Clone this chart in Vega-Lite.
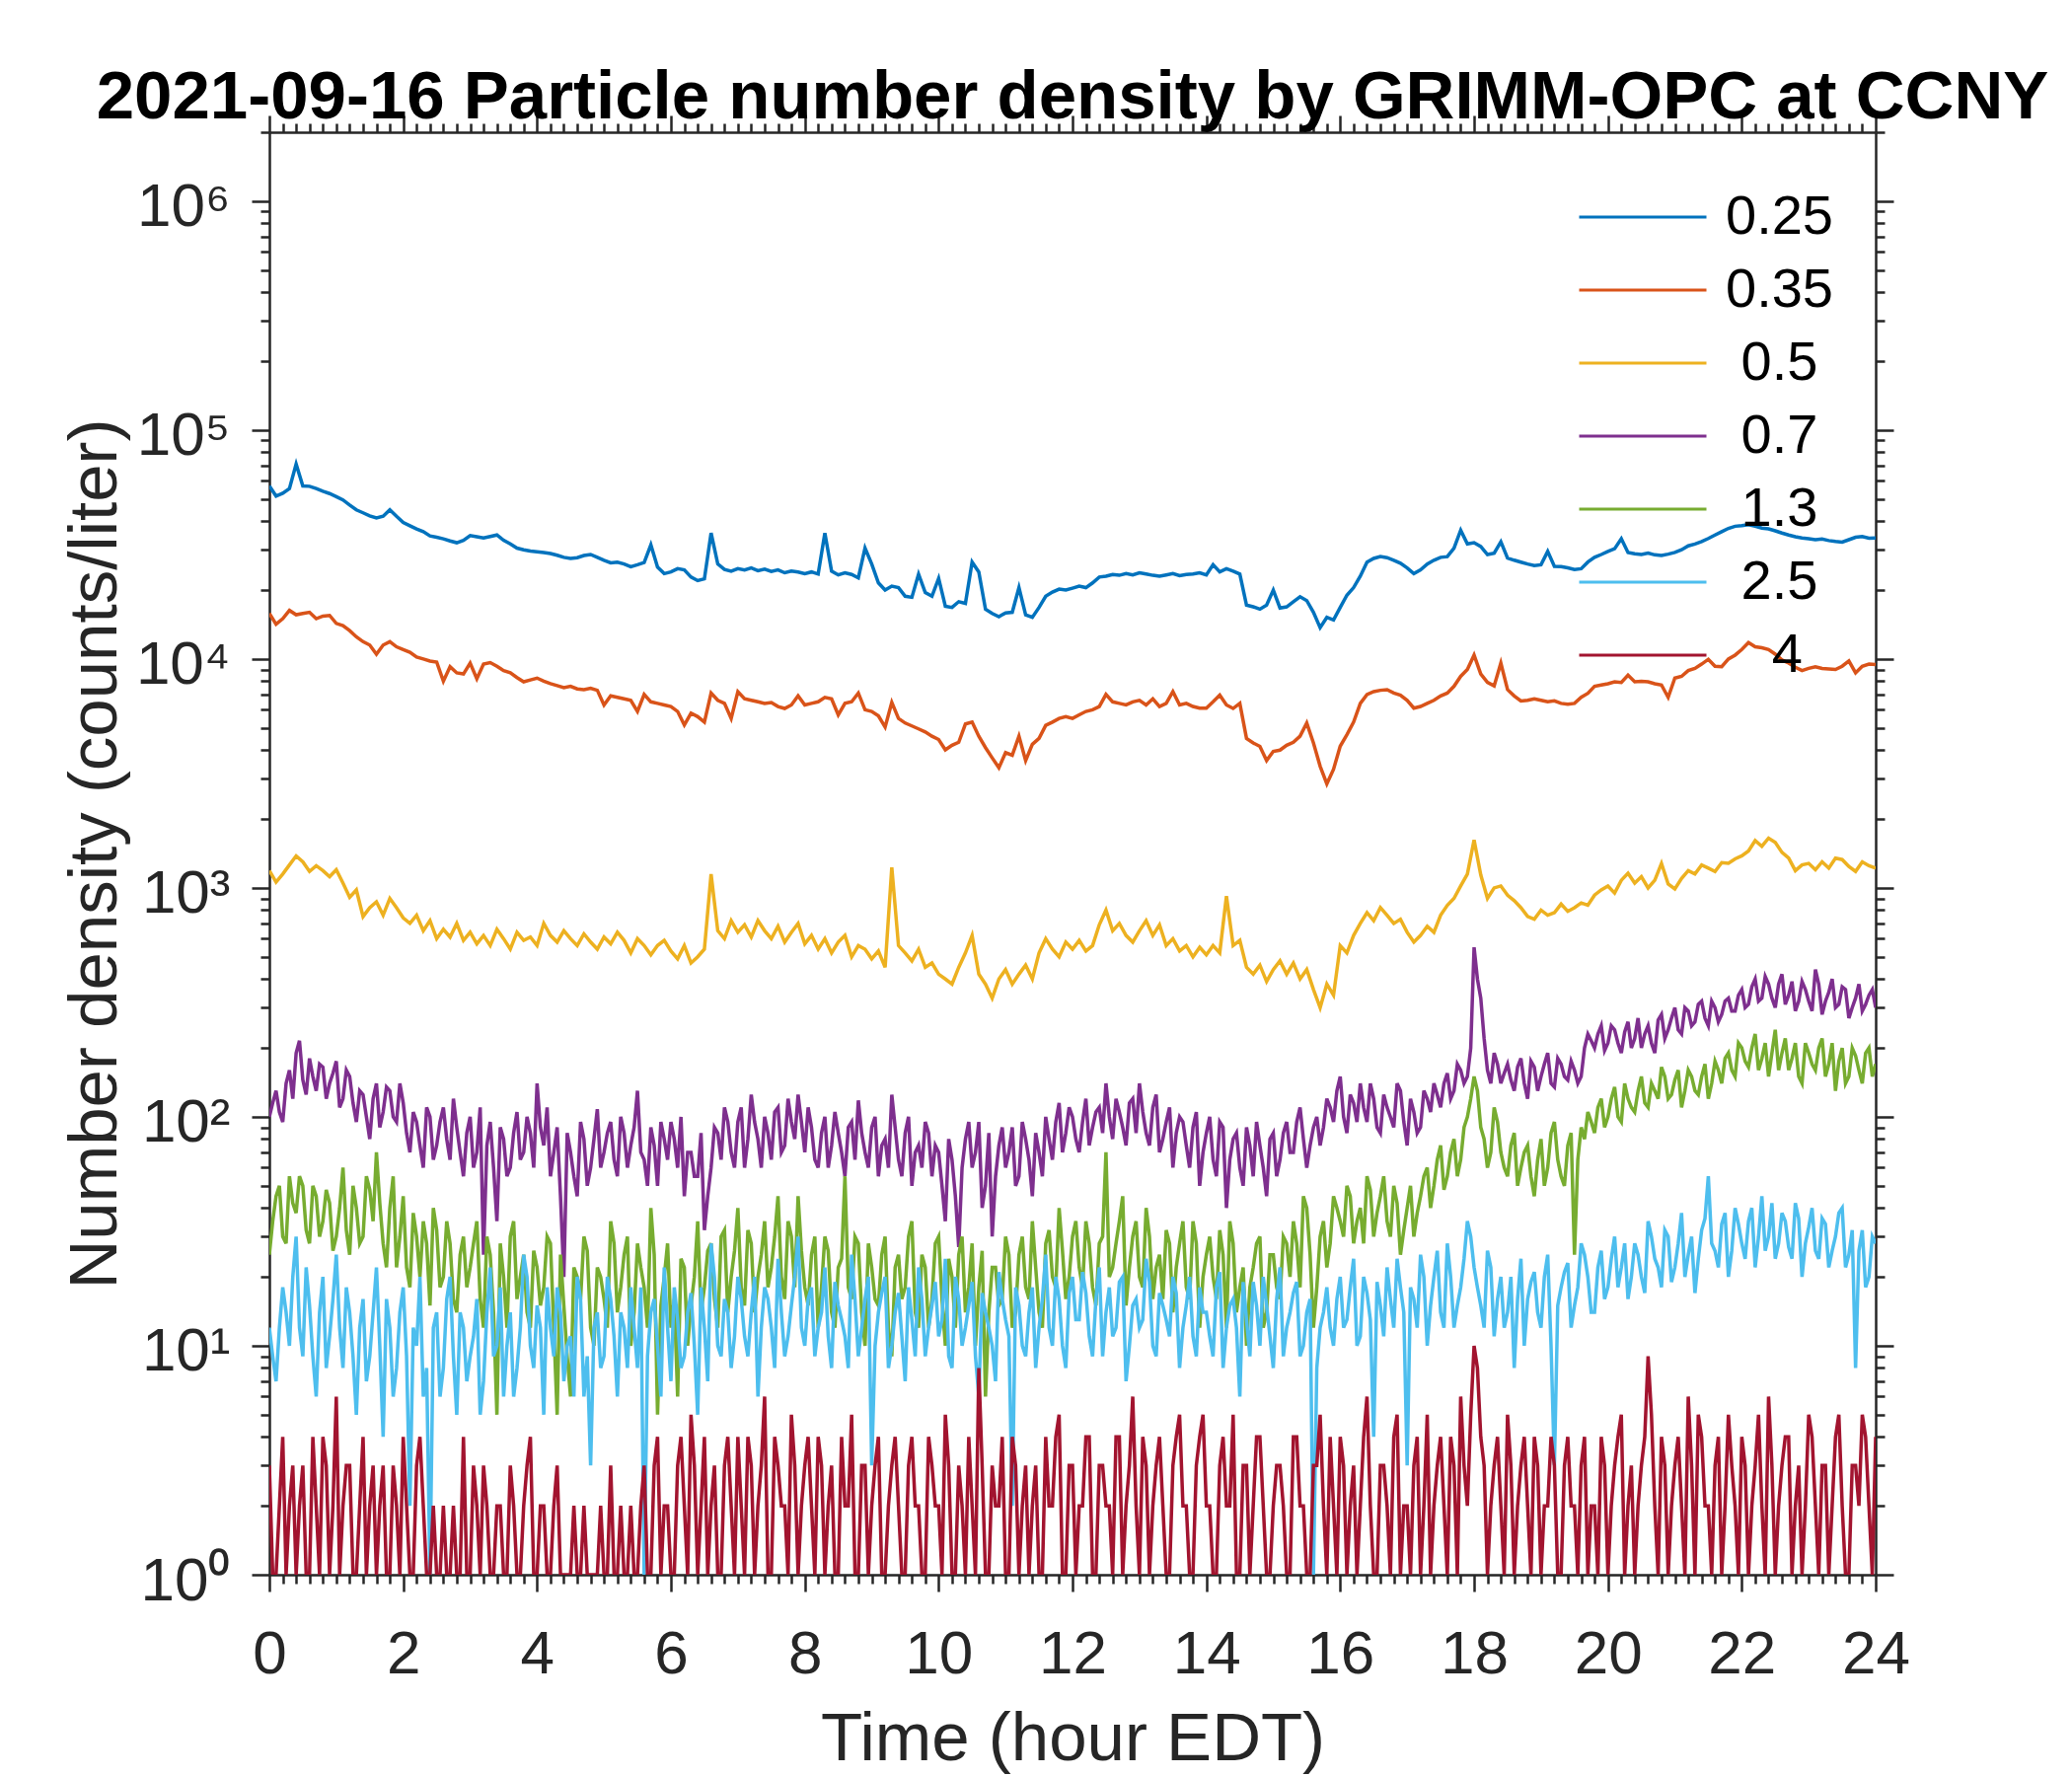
{
  "$schema": "https://vega.github.io/schema/vega-lite/v6.json",
  "width": 1628,
  "height": 1462,
  "autosize": "none",
  "padding": {"left": 273, "top": 134, "right": 199, "bottom": 204},
  "background": "white",
  "title": {
    "text": "2021-09-16 Particle number density by GRIMM-OPC at CCNY",
    "font": "Liberation Sans",
    "fontSize": 69,
    "fontWeight": "bold",
    "color": "black",
    "anchor": "middle",
    "frame": "group",
    "baseline": "alphabetic",
    "offset": 2,
    "dy": 75
  },
  "config": {
    "view": {"stroke": null},
    "axis": {
      "grid": false,
      "labelFont": "Liberation Sans",
      "labelFontSize": 62,
      "labelColor": "#262626",
      "tickColor": "#262626",
      "tickWidth": 2.5,
      "domainColor": "#262626",
      "domainWidth": 2.5,
      "titleFont": "Liberation Sans",
      "titleFontSize": 69,
      "titleFontWeight": "normal",
      "titleColor": "#262626",
      "labelFlush": false,
      "labelOverlap": false
    }
  },
  "resolve": {"axis": {"x": "independent", "y": "independent"}},
  "layer": [
    {
      "data": {
        "values": [
          {"h":0,"a":57000,"b":15800,"c":1190,"d":100,"e":25,"f":12,"g":3},
          {"h":0.05,"d":115,"e":35,"f":9,"g":1},
          {"h":0.1,"a":51500,"b":14200,"c":1060,"d":130,"e":45,"f":7,"g":1},
          {"h":0.15,"d":105,"e":50,"f":12,"g":2},
          {"h":0.2,"a":53000,"b":15000,"c":1150,"d":95,"e":30,"f":18,"g":4},
          {"h":0.25,"d":140,"e":28,"f":14,"g":1},
          {"h":0.3,"a":55500,"b":16300,"c":1260,"d":160,"e":55,"f":10,"g":2},
          {"h":0.35,"d":120,"e":42,"f":20,"g":3},
          {"h":0.4,"a":71000,"b":15600,"c":1380,"d":190,"e":38,"f":30,"g":1},
          {"h":0.45,"d":215,"e":55,"f":12,"g":2},
          {"h":0.5,"a":57000,"b":15800,"c":1300,"d":145,"e":50,"f":9,"g":3},
          {"h":0.55,"d":125,"e":32,"f":22,"g":1},
          {"h":0.6,"a":56800,"b":16000,"c":1180,"d":180,"e":28,"f":15,"g":1},
          {"h":0.65,"d":150,"e":50,"f":9,"g":4},
          {"h":0.7,"a":55500,"b":15000,"c":1250,"d":130,"e":45,"f":6,"g":2},
          {"h":0.75,"d":170,"e":30,"f":14,"g":1},
          {"h":0.8,"a":54000,"b":15400,"c":1190,"d":165,"e":35,"f":20,"g":4},
          {"h":0.85,"d":120,"e":48,"f":8,"g":3},
          {"h":0.9,"a":52800,"b":15500,"c":1120,"d":140,"e":42,"f":11,"g":1},
          {"h":0.95,"d":155,"e":26,"f":16,"g":2},
          {"h":1,"a":51200,"b":14300,"c":1200,"d":175,"e":30,"f":25,"g":6},
          {"h":1.05,"d":110,"e":40,"f":12,"g":1},
          {"h":1.1,"a":49500,"b":14000,"c":1050,"d":120,"e":60,"f":8,"g":2},
          {"h":1.15,"d":160,"e":32,"f":18,"g":3},
          {"h":1.2,"a":47000,"b":13300,"c":910,"d":150,"e":25,"f":14,"g":3},
          {"h":1.25,"d":115,"e":50,"f":9,"g":1},
          {"h":1.3,"a":44800,"b":12500,"c":980,"d":95,"e":40,"f":5,"g":1},
          {"h":1.35,"d":130,"e":28,"f":12,"g":2},
          {"h":1.4,"a":43500,"b":11900,"c":750,"d":125,"e":30,"f":16,"g":4},
          {"h":1.45,"d":100,"e":55,"f":7,"g":1},
          {"h":1.5,"a":42200,"b":11500,"c":820,"d":80,"e":48,"f":9,"g":2},
          {"h":1.55,"d":120,"e":35,"f":14,"g":3},
          {"h":1.6,"a":41300,"b":10500,"c":870,"d":140,"e":70,"f":22,"g":1},
          {"h":1.65,"d":90,"e":42,"f":10,"g":2},
          {"h":1.7,"a":42000,"b":11500,"c":760,"d":105,"e":28,"f":4,"g":3},
          {"h":1.75,"d":135,"e":22,"f":16,"g":1},
          {"h":1.8,"a":44800,"b":11900,"c":900,"d":130,"e":40,"f":12,"g":1},
          {"h":1.85,"d":100,"e":55,"f":6,"g":3},
          {"h":1.9,"a":42000,"b":11300,"c":820,"d":95,"e":22,"f":8,"g":2},
          {"h":1.95,"d":140,"e":30,"f":14,"g":1},
          {"h":2,"a":39500,"b":11000,"c":740,"d":115,"e":45,"f":18,"g":4},
          {"h":2.05,"d":85,"e":22,"f":9,"g":2},
          {"h":2.1,"a":38200,"b":10700,"c":700,"d":70,"e":18,"f":2,"g":1},
          {"h":2.15,"d":105,"e":38,"f":12,"g":1},
          {"h":2.2,"a":37000,"b":10200,"c":760,"d":95,"e":30,"f":10,"g":3},
          {"h":2.25,"d":75,"e":20,"f":20,"g":4},
          {"h":2.3,"a":36000,"b":10000,"c":650,"d":60,"e":35,"f":6,"g":2},
          {"h":2.35,"d":110,"e":28,"f":8,"g":1},
          {"h":2.4,"a":34500,"b":9800,"c":720,"d":100,"e":15,"f":1,"g":1},
          {"h":2.45,"d":65,"e":40,"f":12,"g":2},
          {"h":2.5,"a":34000,"b":9700,"c":600,"d":75,"e":32,"f":14,"g":1},
          {"h":2.55,"d":95,"e":18,"f":6,"g":1},
          {"h":2.6,"a":33500,"b":8000,"c":660,"d":110,"e":20,"f":8,"g":2},
          {"h":2.65,"d":80,"e":35,"f":16,"g":1},
          {"h":2.7,"a":32800,"b":9250,"c":610,"d":65,"e":28,"f":20,"g":1},
          {"h":2.75,"d":120,"e":16,"f":9,"g":2},
          {"h":2.8,"a":32200,"b":8700,"c":700,"d":90,"e":14,"f":5,"g":1},
          {"h":2.85,"d":70,"e":25,"f":14,"g":1},
          {"h":2.9,"a":33000,"b":8600,"c":590,"d":55,"e":30,"f":12,"g":4},
          {"h":2.95,"d":85,"e":18,"f":7,"g":1},
          {"h":3,"a":34600,"b":9600,"c":640,"d":100,"e":22,"f":9,"g":1},
          {"h":3.05,"d":60,"e":28,"f":11,"g":3},
          {"h":3.1,"a":34200,"b":8200,"c":570,"d":70,"e":35,"f":16,"g":2},
          {"h":3.15,"d":110,"e":16,"f":5,"g":1},
          {"h":3.2,"a":33800,"b":9500,"c":620,"d":25,"e":12,"f":7,"g":3},
          {"h":3.25,"d":75,"e":30,"f":14,"g":2},
          {"h":3.3,"a":34300,"b":9650,"c":560,"d":95,"e":25,"f":22,"g":1},
          {"h":3.35,"d":60,"e":14,"f":9,"g":1},
          {"h":3.4,"a":34800,"b":9300,"c":660,"d":35,"e":5,"f":10,"g":2},
          {"h":3.45,"d":90,"e":28,"f":18,"g":2},
          {"h":3.5,"a":33000,"b":8900,"c":600,"d":80,"e":20,"f":6,"g":1},
          {"h":3.55,"d":55,"e":12,"f":10,"g":1},
          {"h":3.6,"a":31800,"b":8700,"c":540,"d":60,"e":30,"f":14,"g":3},
          {"h":3.65,"d":85,"e":35,"f":6,"g":2},
          {"h":3.7,"a":30500,"b":8300,"c":640,"d":105,"e":16,"f":8,"g":1},
          {"h":3.75,"d":65,"e":20,"f":12,"g":1},
          {"h":3.8,"a":30000,"b":7950,"c":590,"d":70,"e":25,"f":25,"g":2},
          {"h":3.85,"d":100,"e":14,"f":20,"g":3},
          {"h":3.9,"a":29600,"b":8100,"c":610,"d":85,"e":12,"f":10,"g":4},
          {"h":3.95,"d":60,"e":26,"f":8,"g":1},
          {"h":4,"a":29400,"b":8250,"c":560,"d":140,"e":22,"f":15,"g":1},
          {"h":4.05,"d":90,"e":15,"f":12,"g":2},
          {"h":4.1,"a":29200,"b":8000,"c":700,"d":75,"e":18,"f":5,"g":2},
          {"h":4.15,"d":110,"e":30,"f":18,"g":1},
          {"h":4.2,"a":28900,"b":7800,"c":620,"d":55,"e":28,"f":12,"g":1},
          {"h":4.25,"d":70,"e":12,"f":9,"g":2},
          {"h":4.3,"a":28400,"b":7650,"c":580,"d":90,"e":5,"f":18,"g":3},
          {"h":4.35,"d":45,"e":25,"f":14,"g":1},
          {"h":4.4,"a":27800,"b":7500,"c":650,"d":20,"e":15,"f":7,"g":1},
          {"h":4.45,"d":85,"e":9,"f":10,"g":1},
          {"h":4.5,"a":27500,"b":7600,"c":600,"d":70,"e":6,"f":11,"g":1},
          {"h":4.55,"d":55,"e":22,"f":6,"g":2},
          {"h":4.6,"a":27700,"b":7400,"c":560,"d":45,"e":20,"f":20,"g":1},
          {"h":4.65,"d":95,"e":16,"f":16,"g":1},
          {"h":4.7,"a":28300,"b":7350,"c":630,"d":80,"e":30,"f":6,"g":2},
          {"h":4.75,"d":50,"e":26,"f":9,"g":1},
          {"h":4.8,"a":28600,"b":7450,"c":580,"d":60,"e":12,"f":3,"g":1},
          {"h":4.85,"d":80,"e":10,"f":12,"g":1},
          {"h":4.9,"a":27800,"b":7300,"c":540,"d":108,"e":22,"f":14,"g":1},
          {"h":4.95,"d":60,"e":20,"f":8,"g":2},
          {"h":5,"a":27000,"b":6300,"c":610,"d":70,"e":16,"f":9,"g":1},
          {"h":5.05,"d":85,"e":12,"f":20,"g":1},
          {"h":5.1,"a":26300,"b":6900,"c":570,"d":95,"e":35,"f":16,"g":3},
          {"h":5.15,"d":65,"e":28,"f":11,"g":1},
          {"h":5.2,"a":26500,"b":6800,"c":640,"d":55,"e":14,"f":6,"g":1},
          {"h":5.25,"d":100,"e":18,"f":14,"g":2},
          {"h":5.3,"a":26000,"b":6700,"c":590,"d":85,"e":25,"f":12,"g":1},
          {"h":5.35,"d":60,"e":30,"f":8,"g":1},
          {"h":5.4,"a":25300,"b":6600,"c":520,"d":75,"e":10,"f":18,"g":2},
          {"h":5.45,"d":90,"e":14,"f":12,"g":1},
          {"h":5.5,"a":25800,"b":5900,"c":600,"d":130,"e":28,"f":8,"g":1},
          {"h":5.55,"d":70,"e":22,"f":18,"g":2},
          {"h":5.6,"a":26400,"b":7000,"c":560,"d":65,"e":18,"f":1,"g":3},
          {"h":5.65,"d":50,"e":12,"f":9,"g":1},
          {"h":5.7,"a":31500,"b":6500,"c":510,"d":90,"e":40,"f":14,"g":1},
          {"h":5.75,"d":75,"e":25,"f":16,"g":3},
          {"h":5.8,"a":25200,"b":6400,"c":560,"d":50,"e":5,"f":10,"g":4},
          {"h":5.85,"d":95,"e":15,"f":6,"g":1},
          {"h":5.9,"a":23600,"b":6300,"c":590,"d":80,"e":20,"f":22,"g":2},
          {"h":5.95,"d":65,"e":28,"f":12,"g":2},
          {"h":6,"a":24000,"b":6200,"c":530,"d":95,"e":12,"f":7,"g":1},
          {"h":6.05,"d":80,"e":16,"f":18,"g":1},
          {"h":6.1,"a":24800,"b":5900,"c":490,"d":60,"e":6,"f":13,"g":3},
          {"h":6.15,"d":100,"e":24,"f":8,"g":4},
          {"h":6.2,"a":24500,"b":5150,"c":560,"d":45,"e":22,"f":9,"g":2},
          {"h":6.25,"d":70,"e":10,"f":14,"g":1},
          {"h":6.3,"a":22800,"b":5800,"c":470,"d":70,"e":15,"f":17,"g":5},
          {"h":6.35,"d":55,"e":20,"f":10,"g":3},
          {"h":6.4,"a":22000,"b":5600,"c":500,"d":55,"e":35,"f":5,"g":1},
          {"h":6.45,"d":85,"e":14,"f":18,"g":2},
          {"h":6.5,"a":22400,"b":5300,"c":540,"d":32,"e":18,"f":12,"g":4},
          {"h":6.55,"d":45,"e":26,"f":7,"g":1},
          {"h":6.6,"a":35500,"b":7100,"c":1150,"d":60,"e":28,"f":28,"g":2},
          {"h":6.65,"d":90,"e":16,"f":20,"g":3},
          {"h":6.7,"a":26000,"b":6600,"c":650,"d":85,"e":12,"f":10,"g":1},
          {"h":6.75,"d":65,"e":30,"f":9,"g":1},
          {"h":6.8,"a":24600,"b":6400,"c":600,"d":110,"e":32,"f":16,"g":3},
          {"h":6.85,"d":95,"e":14,"f":14,"g":4},
          {"h":6.9,"a":24200,"b":5500,"c":720,"d":70,"e":20,"f":8,"g":2},
          {"h":6.95,"d":60,"e":26,"f":11,"g":1},
          {"h":7,"a":24800,"b":7200,"c":640,"d":95,"e":40,"f":20,"g":4},
          {"h":7.05,"d":110,"e":18,"f":16,"g":2},
          {"h":7.1,"a":24500,"b":6700,"c":690,"d":60,"e":15,"f":11,"g":1},
          {"h":7.15,"d":80,"e":32,"f":9,"g":4},
          {"h":7.2,"a":25000,"b":6600,"c":610,"d":125,"e":28,"f":14,"g":3},
          {"h":7.25,"d":95,"e":14,"f":20,"g":1},
          {"h":7.3,"a":24300,"b":6500,"c":720,"d":80,"e":20,"f":6,"g":2},
          {"h":7.35,"d":60,"e":25,"f":12,"g":3},
          {"h":7.4,"a":24700,"b":6400,"c":650,"d":100,"e":35,"f":18,"g":6},
          {"h":7.45,"d":85,"e":18,"f":16,"g":1},
          {"h":7.5,"a":24100,"b":6450,"c":600,"d":65,"e":22,"f":12,"g":1},
          {"h":7.55,"d":105,"e":30,"f":8,"g":4},
          {"h":7.6,"a":24500,"b":6200,"c":680,"d":110,"e":45,"f":24,"g":3},
          {"h":7.65,"d":70,"e":20,"f":14,"g":2},
          {"h":7.7,"a":23800,"b":6080,"c":580,"d":75,"e":16,"f":9,"g":2},
          {"h":7.75,"d":120,"e":35,"f":11,"g":1},
          {"h":7.8,"a":24200,"b":6300,"c":640,"d":95,"e":30,"f":15,"g":5},
          {"h":7.85,"d":80,"e":18,"f":20,"g":3},
          {"h":7.9,"a":24000,"b":6900,"c":700,"d":125,"e":45,"f":30,"g":1},
          {"h":7.95,"d":95,"e":26,"f":12,"g":2},
          {"h":8,"a":23600,"b":6300,"c":570,"d":70,"e":18,"f":10,"g":3},
          {"h":8.05,"d":110,"e":15,"f":16,"g":4},
          {"h":8.1,"a":24000,"b":6400,"c":620,"d":90,"e":25,"f":18,"g":2},
          {"h":8.15,"d":65,"e":30,"f":9,"g":1},
          {"h":8.2,"a":23500,"b":6500,"c":540,"d":60,"e":12,"f":12,"g":4},
          {"h":8.25,"d":85,"e":18,"f":14,"g":3},
          {"h":8.3,"a":35500,"b":6800,"c":600,"d":100,"e":30,"f":22,"g":1},
          {"h":8.35,"d":60,"e":26,"f":11,"g":2},
          {"h":8.4,"a":24200,"b":6700,"c":520,"d":75,"e":14,"f":8,"g":3},
          {"h":8.45,"d":105,"e":12,"f":19,"g":1},
          {"h":8.5,"a":23300,"b":5700,"c":580,"d":85,"e":22,"f":15,"g":1},
          {"h":8.55,"d":70,"e":24,"f":13,"g":4},
          {"h":8.6,"a":23800,"b":6400,"c":620,"d":55,"e":55,"f":11,"g":2},
          {"h":8.65,"d":90,"e":18,"f":8,"g":2},
          {"h":8.7,"a":23400,"b":6500,"c":500,"d":95,"e":16,"f":25,"g":5},
          {"h":8.75,"d":65,"e":30,"f":16,"g":1},
          {"h":8.8,"a":22600,"b":7100,"c":560,"d":118,"e":28,"f":9,"g":1},
          {"h":8.85,"d":85,"e":14,"f":12,"g":3},
          {"h":8.9,"a":30500,"b":6000,"c":540,"d":70,"e":10,"f":16,"g":3},
          {"h":8.95,"d":60,"e":28,"f":20,"g":1},
          {"h":9,"a":26000,"b":5900,"c":490,"d":90,"e":22,"f":3,"g":2},
          {"h":9.05,"d":100,"e":16,"f":10,"g":3},
          {"h":9.1,"a":21500,"b":5640,"c":530,"d":55,"e":15,"f":14,"g":4},
          {"h":9.15,"d":75,"e":25,"f":17,"g":1},
          {"h":9.2,"a":20000,"b":5040,"c":450,"d":80,"e":30,"f":20,"g":1},
          {"h":9.25,"d":60,"e":12,"f":8,"g":2},
          {"h":9.3,"a":20800,"b":6460,"c":1230,"d":125,"e":9,"f":10,"g":3},
          {"h":9.35,"d":90,"e":22,"f":14,"g":4},
          {"h":9.4,"a":20500,"b":5500,"c":560,"d":65,"e":25,"f":17,"g":2},
          {"h":9.45,"d":55,"e":16,"f":11,"g":1},
          {"h":9.5,"a":18800,"b":5250,"c":520,"d":85,"e":18,"f":7,"g":1},
          {"h":9.55,"d":100,"e":30,"f":18,"g":3},
          {"h":9.6,"a":18600,"b":5100,"c":480,"d":50,"e":35,"f":13,"g":4},
          {"h":9.65,"d":70,"e":14,"f":9,"g":2},
          {"h":9.7,"a":23500,"b":4950,"c":540,"d":75,"e":12,"f":22,"g":2},
          {"h":9.75,"d":60,"e":25,"f":16,"g":1},
          {"h":9.8,"a":19500,"b":4800,"c":450,"d":95,"e":22,"f":9,"g":1},
          {"h":9.85,"d":85,"e":12,"f":12,"g":4},
          {"h":9.9,"a":18800,"b":4600,"c":470,"d":55,"e":16,"f":15,"g":3},
          {"h":9.95,"d":75,"e":28,"f":19,"g":2},
          {"h":10,"a":22500,"b":4450,"c":420,"d":70,"e":30,"f":11,"g":2},
          {"h":10.05,"d":50,"e":16,"f":13,"g":1},
          {"h":10.1,"a":17000,"b":4010,"c":400,"d":35,"e":10,"f":24,"g":5},
          {"h":10.15,"d":80,"e":24,"f":9,"g":3},
          {"h":10.2,"a":16800,"b":4200,"c":380,"d":65,"e":20,"f":8,"g":1},
          {"h":10.25,"d":45,"e":12,"f":20,"g":1},
          {"h":10.3,"a":17800,"b":4330,"c":450,"d":27,"e":25,"f":16,"g":3},
          {"h":10.35,"d":60,"e":30,"f":10,"g":2},
          {"h":10.4,"a":17500,"b":5200,"c":520,"d":80,"e":14,"f":12,"g":1},
          {"h":10.45,"d":95,"e":18,"f":15,"g":4},
          {"h":10.5,"a":26500,"b":5300,"c":620,"d":60,"e":28,"f":19,"g":2},
          {"h":10.55,"d":70,"e":10,"f":9,"g":1},
          {"h":10.6,"a":24000,"b":4600,"c":420,"d":95,"e":18,"f":6,"g":8},
          {"h":10.65,"d":40,"e":26,"f":17,"g":3},
          {"h":10.7,"a":16500,"b":4100,"c":380,"d":50,"e":6,"f":14,"g":1},
          {"h":10.75,"d":85,"e":14,"f":12,"g":1},
          {"h":10.8,"a":15800,"b":3700,"c":330,"d":30,"e":22,"f":10,"g":3},
          {"h":10.85,"d":55,"e":22,"f":7,"g":2},
          {"h":10.9,"a":15300,"b":3350,"c":400,"d":75,"e":15,"f":21,"g":2},
          {"h":10.95,"d":90,"e":16,"f":16,"g":4},
          {"h":11,"a":15900,"b":3900,"c":440,"d":60,"e":30,"f":13,"g":1},
          {"h":11.05,"d":70,"e":25,"f":11,"g":1},
          {"h":11.1,"a":16000,"b":3800,"c":380,"d":90,"e":12,"f":2,"g":4},
          {"h":11.15,"d":50,"e":14,"f":18,"g":3},
          {"h":11.2,"a":20500,"b":4600,"c":420,"d":55,"e":25,"f":15,"g":1},
          {"h":11.25,"d":95,"e":30,"f":10,"g":2},
          {"h":11.3,"a":15600,"b":3600,"c":460,"d":80,"e":18,"f":9,"g":3},
          {"h":11.35,"d":65,"e":16,"f":14,"g":1},
          {"h":11.4,"a":15200,"b":4240,"c":400,"d":45,"e":35,"f":18,"g":2},
          {"h":11.45,"d":85,"e":22,"f":8,"g":3},
          {"h":11.5,"a":16800,"b":4500,"c":520,"d":70,"e":14,"f":12,"g":1},
          {"h":11.55,"d":55,"e":12,"f":16,"g":1},
          {"h":11.6,"a":18800,"b":5130,"c":600,"d":100,"e":28,"f":25,"g":4},
          {"h":11.65,"d":80,"e":32,"f":12,"g":2},
          {"h":11.7,"a":19600,"b":5300,"c":540,"d":65,"e":20,"f":10,"g":2},
          {"h":11.75,"d":95,"e":18,"f":20,"g":4},
          {"h":11.8,"a":20200,"b":5500,"c":500,"d":115,"e":40,"f":16,"g":5},
          {"h":11.85,"d":70,"e":26,"f":10,"g":1},
          {"h":11.9,"a":20000,"b":5600,"c":580,"d":85,"e":16,"f":8,"g":1},
          {"h":11.95,"d":110,"e":20,"f":17,"g":3},
          {"h":12,"a":20400,"b":5500,"c":540,"d":100,"e":30,"f":20,"g":3},
          {"h":12.05,"d":80,"e":35,"f":13,"g":1},
          {"h":12.1,"a":20800,"b":5700,"c":590,"d":70,"e":22,"f":13,"g":2},
          {"h":12.15,"d":95,"e":18,"f":21,"g":2},
          {"h":12.2,"a":20500,"b":5900,"c":530,"d":120,"e":35,"f":17,"g":4},
          {"h":12.25,"d":75,"e":28,"f":11,"g":4},
          {"h":12.3,"a":21500,"b":6000,"c":560,"d":90,"e":18,"f":9,"g":1},
          {"h":12.35,"d":105,"e":15,"f":16,"g":1},
          {"h":12.4,"a":22800,"b":6200,"c":690,"d":110,"e":28,"f":22,"g":3},
          {"h":12.45,"d":85,"e":30,"f":9,"g":3},
          {"h":12.5,"a":23000,"b":7000,"c":800,"d":140,"e":70,"f":14,"g":2},
          {"h":12.55,"d":100,"e":20,"f":18,"g":2},
          {"h":12.6,"a":23400,"b":6500,"c":650,"d":80,"e":22,"f":11,"g":1},
          {"h":12.65,"d":120,"e":28,"f":12,"g":4},
          {"h":12.7,"a":23200,"b":6400,"c":700,"d":105,"e":35,"f":19,"g":4},
          {"h":12.75,"d":90,"e":45,"f":20,"g":1},
          {"h":12.8,"a":23600,"b":6300,"c":620,"d":75,"e":15,"f":7,"g":2},
          {"h":12.85,"d":115,"e":22,"f":10,"g":3},
          {"h":12.9,"a":23300,"b":6500,"c":580,"d":120,"e":30,"f":15,"g":6},
          {"h":12.95,"d":85,"e":35,"f":16,"g":2},
          {"h":13,"a":23800,"b":6600,"c":650,"d":140,"e":20,"f":12,"g":1},
          {"h":13.05,"d":105,"e":18,"f":13,"g":4},
          {"h":13.1,"a":23500,"b":6300,"c":720,"d":85,"e":40,"f":24,"g":3},
          {"h":13.15,"d":75,"e":30,"f":19,"g":1},
          {"h":13.2,"a":23200,"b":6700,"c":620,"d":110,"e":16,"f":10,"g":2},
          {"h":13.25,"d":125,"e":22,"f":9,"g":3},
          {"h":13.3,"a":23000,"b":6200,"c":690,"d":70,"e":25,"f":17,"g":4},
          {"h":13.35,"d":80,"e":16,"f":15,"g":2},
          {"h":13.4,"a":23300,"b":6400,"c":560,"d":95,"e":32,"f":13,"g":1},
          {"h":13.45,"d":110,"e":28,"f":11,"g":1},
          {"h":13.5,"a":23600,"b":7200,"c":600,"d":60,"e":14,"f":20,"g":3},
          {"h":13.55,"d":85,"e":22,"f":17,"g":4},
          {"h":13.6,"a":23100,"b":6300,"c":530,"d":100,"e":28,"f":8,"g":5},
          {"h":13.65,"d":95,"e":35,"f":12,"g":2},
          {"h":13.7,"a":23400,"b":6400,"c":560,"d":75,"e":18,"f":15,"g":2},
          {"h":13.75,"d":60,"e":16,"f":20,"g":1},
          {"h":13.8,"a":23500,"b":6200,"c":500,"d":90,"e":35,"f":11,"g":1},
          {"h":13.85,"d":105,"e":28,"f":9,"g":3},
          {"h":13.9,"a":23800,"b":6100,"c":550,"d":50,"e":12,"f":18,"g":4},
          {"h":13.95,"d":70,"e":20,"f":14,"g":5},
          {"h":14,"a":23300,"b":6100,"c":510,"d":85,"e":25,"f":14,"g":2},
          {"h":14.05,"d":100,"e":30,"f":11,"g":2},
          {"h":14.1,"a":25800,"b":6500,"c":560,"d":65,"e":20,"f":9,"g":1},
          {"h":14.15,"d":55,"e":16,"f":18,"g":1},
          {"h":14.2,"a":24000,"b":6950,"c":520,"d":95,"e":32,"f":21,"g":3},
          {"h":14.25,"d":90,"e":25,"f":8,"g":4},
          {"h":14.3,"a":24800,"b":6300,"c":920,"d":40,"e":12,"f":12,"g":2},
          {"h":14.35,"d":65,"e":35,"f":15,"g":2},
          {"h":14.4,"a":24200,"b":6080,"c":560,"d":80,"e":28,"f":16,"g":5},
          {"h":14.45,"d":85,"e":14,"f":12,"g":1},
          {"h":14.5,"a":23500,"b":6400,"c":590,"d":60,"e":18,"f":6,"g":1},
          {"h":14.55,"d":50,"e":22,"f":19,"g":3},
          {"h":14.6,"a":17200,"b":4500,"c":450,"d":90,"e":10,"f":13,"g":3},
          {"h":14.65,"d":75,"e":18,"f":9,"g":1},
          {"h":14.7,"a":16900,"b":4300,"c":420,"d":55,"e":22,"f":19,"g":2},
          {"h":14.75,"d":95,"e":28,"f":15,"g":4},
          {"h":14.8,"a":16500,"b":4150,"c":460,"d":75,"e":30,"f":10,"g":4},
          {"h":14.85,"d":60,"e":12,"f":20,"g":2},
          {"h":14.9,"a":17200,"b":3600,"c":390,"d":45,"e":14,"f":15,"g":1},
          {"h":14.95,"d":80,"e":25,"f":11,"g":1},
          {"h":15,"a":20000,"b":3950,"c":440,"d":85,"e":25,"f":8,"g":2},
          {"h":15.05,"d":55,"e":18,"f":16,"g":3},
          {"h":15.1,"a":16700,"b":4000,"c":480,"d":65,"e":16,"f":22,"g":3},
          {"h":15.15,"d":85,"e":30,"f":9,"g":2},
          {"h":15.2,"a":16900,"b":4200,"c":420,"d":95,"e":28,"f":12,"g":1},
          {"h":15.25,"d":70,"e":20,"f":14,"g":1},
          {"h":15.3,"a":17800,"b":4330,"c":470,"d":70,"e":35,"f":17,"g":4},
          {"h":15.35,"d":95,"e":28,"f":19,"g":4},
          {"h":15.4,"a":18700,"b":4600,"c":400,"d":110,"e":18,"f":9,"g":2},
          {"h":15.45,"d":80,"e":45,"f":10,"g":2},
          {"h":15.5,"a":18000,"b":5250,"c":440,"d":60,"e":40,"f":14,"g":1},
          {"h":15.55,"d":75,"e":25,"f":16,"g":1},
          {"h":15.6,"a":16000,"b":4300,"c":360,"d":90,"e":12,"f":1,"g":3},
          {"h":15.65,"d":100,"e":18,"f":8,"g":3},
          {"h":15.7,"a":13700,"b":3400,"c":300,"d":75,"e":30,"f":12,"g":5},
          {"h":15.75,"d":90,"e":35,"f":14,"g":2},
          {"h":15.8,"a":15200,"b":2850,"c":380,"d":120,"e":22,"f":18,"g":1},
          {"h":15.85,"d":110,"e":28,"f":12,"g":4},
          {"h":15.9,"a":14800,"b":3300,"c":340,"d":95,"e":45,"f":10,"g":2},
          {"h":15.95,"d":130,"e":40,"f":16,"g":1},
          {"h":16,"a":16800,"b":4160,"c":560,"d":150,"e":35,"f":20,"g":4},
          {"h":16.05,"d":100,"e":30,"f":12,"g":3},
          {"h":16.1,"a":19000,"b":4670,"c":520,"d":85,"e":50,"f":13,"g":1},
          {"h":16.15,"d":125,"e":45,"f":18,"g":2},
          {"h":16.2,"a":20500,"b":5300,"c":620,"d":115,"e":28,"f":24,"g":3},
          {"h":16.25,"d":95,"e":35,"f":10,"g":1},
          {"h":16.3,"a":23000,"b":6400,"c":700,"d":140,"e":40,"f":11,"g":2},
          {"h":16.35,"d":110,"e":28,"f":20,"g":4},
          {"h":16.4,"a":26500,"b":7000,"c":780,"d":95,"e":55,"f":17,"g":6},
          {"h":16.45,"d":140,"e":48,"f":13,"g":2},
          {"h":16.5,"a":27500,"b":7200,"c":720,"d":120,"e":30,"f":4,"g":1},
          {"h":16.55,"d":90,"e":38,"f":19,"g":1},
          {"h":16.6,"a":28000,"b":7300,"c":820,"d":85,"e":45,"f":15,"g":3},
          {"h":16.65,"d":125,"e":55,"f":11,"g":3},
          {"h":16.7,"a":27700,"b":7350,"c":760,"d":110,"e":35,"f":22,"g":2},
          {"h":16.75,"d":100,"e":30,"f":16,"g":1},
          {"h":16.8,"a":27000,"b":7100,"c":700,"d":90,"e":50,"f":12,"g":4},
          {"h":16.85,"d":140,"e":42,"f":24,"g":5},
          {"h":16.9,"a":26200,"b":6950,"c":730,"d":130,"e":25,"f":18,"g":1},
          {"h":16.95,"d":95,"e":32,"f":14,"g":2},
          {"h":17,"a":25000,"b":6600,"c":640,"d":75,"e":40,"f":3,"g":2},
          {"h":17.05,"d":120,"e":50,"f":18,"g":1},
          {"h":17.1,"a":23600,"b":6100,"c":580,"d":105,"e":30,"f":16,"g":3},
          {"h":17.15,"d":85,"e":38,"f":12,"g":4},
          {"h":17.2,"a":24500,"b":6200,"c":620,"d":90,"e":45,"f":25,"g":1},
          {"h":17.25,"d":130,"e":55,"f":20,"g":2},
          {"h":17.3,"a":26000,"b":6400,"c":680,"d":120,"e":60,"f":10,"g":5},
          {"h":17.35,"d":105,"e":40,"f":15,"g":1},
          {"h":17.4,"a":27000,"b":6600,"c":640,"d":140,"e":50,"f":20,"g":2},
          {"h":17.45,"d":125,"e":65,"f":26,"g":3},
          {"h":17.5,"a":27800,"b":6900,"c":760,"d":110,"e":75,"f":14,"g":4},
          {"h":17.55,"d":140,"e":48,"f":12,"g":2},
          {"h":17.6,"a":28000,"b":7100,"c":840,"d":155,"e":55,"f":28,"g":1},
          {"h":17.65,"d":120,"e":70,"f":20,"g":4},
          {"h":17.7,"a":30500,"b":7600,"c":900,"d":130,"e":80,"f":12,"g":3},
          {"h":17.75,"d":170,"e":55,"f":15,"g":1},
          {"h":17.8,"a":36500,"b":8400,"c":1020,"d":160,"e":65,"f":18,"g":6},
          {"h":17.85,"d":140,"e":90,"f":24,"g":3},
          {"h":17.9,"a":31800,"b":9000,"c":1150,"d":150,"e":100,"f":35,"g":2},
          {"h":17.95,"d":200,"e":120,"f":30,"g":5},
          {"h":18,"a":32200,"b":10400,"c":1620,"d":550,"e":150,"f":22,"g":10},
          {"h":18.05,"d":400,"e":130,"f":18,"g":8},
          {"h":18.1,"a":31000,"b":8600,"c":1140,"d":330,"e":90,"f":15,"g":4},
          {"h":18.15,"d":220,"e":80,"f":12,"g":3},
          {"h":18.2,"a":28600,"b":7900,"c":900,"d":160,"e":60,"f":26,"g":1},
          {"h":18.25,"d":140,"e":70,"f":22,"g":2},
          {"h":18.3,"a":29000,"b":7630,"c":1000,"d":190,"e":110,"f":11,"g":3},
          {"h":18.35,"d":170,"e":95,"f":16,"g":4},
          {"h":18.4,"a":32500,"b":9600,"c":1020,"d":140,"e":70,"f":20,"g":2},
          {"h":18.45,"d":155,"e":60,"f":12,"g":1},
          {"h":18.5,"a":27600,"b":7350,"c":930,"d":170,"e":55,"f":14,"g":5},
          {"h":18.55,"d":145,"e":75,"f":20,"g":3},
          {"h":18.6,"a":27000,"b":6900,"c":880,"d":130,"e":85,"f":8,"g":1},
          {"h":18.65,"d":165,"e":50,"f":16,"g":2},
          {"h":18.7,"a":26500,"b":6560,"c":820,"d":180,"e":60,"f":24,"g":3},
          {"h":18.75,"d":140,"e":70,"f":10,"g":4},
          {"h":18.8,"a":26000,"b":6600,"c":750,"d":120,"e":75,"f":16,"g":2},
          {"h":18.85,"d":175,"e":55,"f":19,"g":1},
          {"h":18.9,"a":25600,"b":6700,"c":730,"d":165,"e":45,"f":21,"g":4},
          {"h":18.95,"d":130,"e":65,"f":14,"g":3},
          {"h":19,"a":25800,"b":6600,"c":800,"d":150,"e":80,"f":12,"g":1},
          {"h":19.05,"d":170,"e":50,"f":20,"g":2},
          {"h":19.1,"a":29500,"b":6500,"c":760,"d":190,"e":60,"f":25,"g":2},
          {"h":19.15,"d":140,"e":85,"f":10,"g":4},
          {"h":19.2,"a":25400,"b":6560,"c":780,"d":135,"e":95,"f":3,"g":3},
          {"h":19.25,"d":180,"e":65,"f":15,"g":1},
          {"h":19.3,"a":25300,"b":6400,"c":850,"d":170,"e":55,"f":18,"g":1},
          {"h":19.35,"d":150,"e":50,"f":21,"g":3},
          {"h":19.4,"a":25000,"b":6350,"c":790,"d":145,"e":75,"f":23,"g":4},
          {"h":19.45,"d":175,"e":85,"f":12,"g":2},
          {"h":19.5,"a":24600,"b":6400,"c":820,"d":160,"e":25,"f":15,"g":2},
          {"h":19.55,"d":140,"e":65,"f":18,"g":1},
          {"h":19.6,"a":24800,"b":6800,"c":860,"d":150,"e":90,"f":28,"g":3},
          {"h":19.65,"d":200,"e":80,"f":25,"g":4},
          {"h":19.7,"a":26500,"b":7080,"c":840,"d":230,"e":105,"f":20,"g":1},
          {"h":19.75,"d":215,"e":95,"f":14,"g":2},
          {"h":19.8,"a":27800,"b":7600,"c":930,"d":200,"e":85,"f":14,"g":2},
          {"h":19.85,"d":230,"e":110,"f":22,"g":1},
          {"h":19.9,"a":28600,"b":7700,"c":980,"d":250,"e":120,"f":26,"g":4},
          {"h":19.95,"d":195,"e":90,"f":16,"g":3},
          {"h":20,"a":29500,"b":7800,"c":1020,"d":210,"e":100,"f":18,"g":1},
          {"h":20.05,"d":250,"e":120,"f":24,"g":2},
          {"h":20.1,"a":30300,"b":7950,"c":950,"d":240,"e":135,"f":30,"g":3},
          {"h":20.15,"d":210,"e":100,"f":18,"g":4},
          {"h":20.2,"a":33500,"b":7900,"c":1080,"d":190,"e":95,"f":22,"g":5},
          {"h":20.25,"d":235,"e":140,"f":28,"g":1},
          {"h":20.3,"a":29200,"b":8500,"c":1160,"d":260,"e":120,"f":16,"g":2},
          {"h":20.35,"d":200,"e":110,"f":20,"g":3},
          {"h":20.4,"a":28800,"b":7950,"c":1050,"d":220,"e":105,"f":28,"g":1},
          {"h":20.45,"d":270,"e":130,"f":25,"g":2},
          {"h":20.5,"a":28600,"b":8000,"c":1120,"d":200,"e":150,"f":20,"g":3},
          {"h":20.55,"d":230,"e":115,"f":17,"g":4},
          {"h":20.6,"a":29000,"b":7950,"c":1000,"d":250,"e":110,"f":35,"g":9},
          {"h":20.65,"d":210,"e":140,"f":30,"g":5},
          {"h":20.7,"a":28500,"b":7800,"c":1080,"d":190,"e":130,"f":24,"g":2},
          {"h":20.75,"d":265,"e":120,"f":22,"g":1},
          {"h":20.8,"a":28300,"b":7700,"c":1280,"d":280,"e":165,"f":18,"g":4},
          {"h":20.85,"d":220,"e":150,"f":32,"g":3},
          {"h":20.9,"a":28700,"b":6800,"c":1040,"d":240,"e":120,"f":30,"g":1},
          {"h":20.95,"d":270,"e":125,"f":19,"g":2},
          {"h":21,"a":29200,"b":8250,"c":990,"d":300,"e":145,"f":22,"g":3},
          {"h":21.05,"d":240,"e":160,"f":28,"g":4},
          {"h":21.1,"a":30000,"b":8400,"c":1100,"d":230,"e":110,"f":38,"g":2},
          {"h":21.15,"d":300,"e":130,"f":20,"g":1},
          {"h":21.2,"a":31200,"b":8900,"c":1190,"d":290,"e":160,"f":25,"g":6},
          {"h":21.25,"d":250,"e":150,"f":30,"g":3},
          {"h":21.3,"a":31800,"b":9100,"c":1150,"d":260,"e":130,"f":17,"g":1},
          {"h":21.35,"d":310,"e":125,"f":24,"g":5},
          {"h":21.4,"a":32600,"b":9500,"c":1260,"d":320,"e":150,"f":32,"g":4},
          {"h":21.45,"d":270,"e":170,"f":36,"g":2},
          {"h":21.5,"a":33600,"b":9970,"c":1220,"d":250,"e":120,"f":55,"g":2},
          {"h":21.55,"d":320,"e":140,"f":28,"g":1},
          {"h":21.6,"a":34800,"b":9300,"c":1180,"d":300,"e":175,"f":26,"g":3},
          {"h":21.65,"d":260,"e":160,"f":22,"g":4},
          {"h":21.7,"a":36000,"b":9250,"c":1290,"d":280,"e":140,"f":34,"g":1},
          {"h":21.75,"d":320,"e":180,"f":38,"g":2},
          {"h":21.8,"a":37200,"b":10000,"c":1280,"d":330,"e":190,"f":20,"g":5},
          {"h":21.85,"d":290,"e":160,"f":26,"g":3},
          {"h":21.9,"a":38000,"b":10400,"c":1340,"d":290,"e":150,"f":40,"g":2},
          {"h":21.95,"d":340,"e":210,"f":34,"g":1},
          {"h":22,"a":38200,"b":11000,"c":1380,"d":360,"e":200,"f":28,"g":4},
          {"h":22.05,"d":300,"e":175,"f":24,"g":3},
          {"h":22.1,"a":38600,"b":11800,"c":1450,"d":310,"e":165,"f":35,"g":1},
          {"h":22.15,"d":370,"e":200,"f":40,"g":2},
          {"h":22.2,"a":38000,"b":11300,"c":1610,"d":400,"e":230,"f":22,"g":3},
          {"h":22.25,"d":320,"e":160,"f":30,"g":5},
          {"h":22.3,"a":37300,"b":11200,"c":1520,"d":330,"e":180,"f":45,"g":2},
          {"h":22.35,"d":410,"e":210,"f":26,"g":1},
          {"h":22.4,"a":37000,"b":11000,"c":1650,"d":380,"e":150,"f":30,"g":6},
          {"h":22.45,"d":330,"e":190,"f":42,"g":3},
          {"h":22.5,"a":36300,"b":10500,"c":1580,"d":300,"e":240,"f":24,"g":1},
          {"h":22.55,"d":380,"e":160,"f":28,"g":2},
          {"h":22.6,"a":35500,"b":9900,"c":1430,"d":420,"e":190,"f":38,"g":3},
          {"h":22.65,"d":310,"e":220,"f":35,"g":4},
          {"h":22.7,"a":34800,"b":9600,"c":1350,"d":340,"e":160,"f":27,"g":4},
          {"h":22.75,"d":390,"e":180,"f":24,"g":1},
          {"h":22.8,"a":34200,"b":9200,"c":1190,"d":290,"e":210,"f":42,"g":2},
          {"h":22.85,"d":320,"e":150,"f":36,"g":3},
          {"h":22.9,"a":33800,"b":8900,"c":1260,"d":390,"e":140,"f":20,"g":1},
          {"h":22.95,"d":360,"e":210,"f":28,"g":2},
          {"h":23,"a":33500,"b":9100,"c":1280,"d":320,"e":190,"f":33,"g":5},
          {"h":23.05,"d":290,"e":170,"f":40,"g":4},
          {"h":23.1,"a":33200,"b":9250,"c":1200,"d":440,"e":160,"f":26,"g":2},
          {"h":23.15,"d":380,"e":200,"f":24,"g":1},
          {"h":23.2,"a":33400,"b":9100,"c":1300,"d":280,"e":220,"f":36,"g":3},
          {"h":23.25,"d":320,"e":150,"f":34,"g":3},
          {"h":23.3,"a":32900,"b":9050,"c":1220,"d":350,"e":170,"f":22,"g":1},
          {"h":23.35,"d":400,"e":210,"f":26,"g":2},
          {"h":23.4,"a":32600,"b":9000,"c":1350,"d":300,"e":130,"f":30,"g":4},
          {"h":23.45,"d":310,"e":175,"f":38,"g":5},
          {"h":23.5,"a":32400,"b":9300,"c":1330,"d":370,"e":200,"f":40,"g":2},
          {"h":23.55,"d":360,"e":140,"f":22,"g":1},
          {"h":23.6,"a":33200,"b":9800,"c":1240,"d":270,"e":150,"f":25,"g":1},
          {"h":23.65,"d":300,"e":200,"f":32,"g":3},
          {"h":23.7,"a":34000,"b":8700,"c":1180,"d":330,"e":185,"f":8,"g":3},
          {"h":23.75,"d":380,"e":160,"f":26,"g":2},
          {"h":23.8,"a":34300,"b":9300,"c":1300,"d":290,"e":140,"f":32,"g":5},
          {"h":23.85,"d":310,"e":190,"f":18,"g":4},
          {"h":23.9,"a":33700,"b":9500,"c":1250,"d":340,"e":200,"f":20,"g":2},
          {"h":23.95,"d":360,"e":150,"f":30,"g":1},
          {"h":24,"a":33800,"b":9450,"c":1220,"d":300,"e":170,"f":28,"g":4}
        ]
      },
      "transform": [
        {"fold": ["a", "b", "c", "d", "e", "f", "g"], "as": ["size", "n"]},
        {"filter": "isValid(datum.n)"}
      ],
      "mark": {"type": "line", "strokeWidth": 3.5, "clip": true},
      "encoding": {
        "x": {
          "field": "h",
          "type": "quantitative",
          "scale": {"domain": [0, 24], "nice": false, "zero": false},
          "axis": {
            "orient": "bottom",
            "values": [0, 2, 4, 6, 8, 10, 12, 14, 16, 18, 20, 22, 24],
            "tickSize": 17,
            "labelPadding": 33,
            "title": "Time (hour EDT)",
            "titleBaseline": "alphabetic",
            "titleY": 187
          }
        },
        "y": {
          "field": "n",
          "type": "quantitative",
          "scale": {"type": "log", "domain": [1, 2000000], "nice": false},
          "axis": {
            "orient": "left",
            "values": [1, 10, 100, 1000, 10000, 100000, 1000000],
            "labelExpr": "'10' + ['⁰', '¹', '²', '³', '⁴', '⁵', '⁶'][round(log(datum.value) / LN10)]",
            "tickSize": 18,
            "labelPadding": 22,
            "labelOffset": 6,
            "title": "Number density (counts/liter)",
            "titleBaseline": "alphabetic",
            "titleAngle": -90,
            "titleX": -156,
            "titleY": 731
          }
        },
        "color": {
          "field": "size",
          "type": "nominal",
          "scale": {
            "domain": ["a", "b", "c", "d", "e", "f", "g"],
            "range": ["#0072BD", "#D95319", "#EDB120", "#7E2F8E", "#77AC30", "#4DBEEE", "#A2142F"]
          },
          "legend": {
            "title": null,
            "orient": "none",
            "legendX": 1364,
            "legendY": 58,
            "padding": 0,
            "symbolType": "M-3,0H3",
            "symbolSize": 1849,
            "symbolStrokeWidth": 3,
            "labelFont": "Liberation Sans",
            "labelFontSize": 56,
            "labelColor": "black",
            "labelOffset": 56,
            "rowPadding": 18,
            "labelExpr": "['0.25', '0.35', '\u200b\u00a00.5', '\u200b\u00a00.7', '\u200b\u00a01.3', '\u200b\u00a02.5', '\u200b\u00a0\u00a0\u00a04'][indexof(['a', 'b', 'c', 'd', 'e', 'f', 'g'], datum.value)]"
          }
        }
      }
    },
    {
      "data": {"values": [{"h": 0, "n": 1}]},
      "mark": {"type": "point", "opacity": 0},
      "encoding": {
        "x": {
          "field": "h",
          "type": "quantitative",
          "scale": {"domain": [0, 24], "nice": false, "zero": false},
          "axis": {
            "orient": "bottom",
            "values": [0.2,0.4,0.6,0.8,1,1.2,1.4,1.6,1.8,2.2,2.4,2.6,2.8,3,3.2,3.4,3.6,3.8,4.2,4.4,4.6,4.8,5,5.2,5.4,5.6,5.8,6.2,6.4,6.6,6.8,7,7.2,7.4,7.6,7.8,8.2,8.4,8.6,8.8,9,9.2,9.4,9.6,9.8,10.2,10.4,10.6,10.8,11,11.2,11.4,11.6,11.8,12.2,12.4,12.6,12.8,13,13.2,13.4,13.6,13.8,14.2,14.4,14.6,14.8,15,15.2,15.4,15.6,15.8,16.2,16.4,16.6,16.8,17,17.2,17.4,17.6,17.8,18.2,18.4,18.6,18.8,19,19.2,19.4,19.6,19.8,20.2,20.4,20.6,20.8,21,21.2,21.4,21.6,21.8,22.2,22.4,22.6,22.8,23,23.2,23.4,23.6,23.8],
            "tickSize": 9,
            "labels": false,
            "domain": false,
            "title": null
          }
        },
        "y": {
          "field": "n",
          "type": "quantitative",
          "scale": {"type": "log", "domain": [1, 2000000], "nice": false},
          "axis": {
            "orient": "left",
            "values": [2,3,4,5,6,7,8,9,20,30,40,50,60,70,80,90,200,300,400,500,600,700,800,900,2000,3000,4000,5000,6000,7000,8000,9000,20000,30000,40000,50000,60000,70000,80000,90000,200000,300000,400000,500000,600000,700000,800000,900000,2000000],
            "tickSize": 9,
            "labels": false,
            "domain": false,
            "title": null
          }
        }
      }
    },
    {
      "data": {"values": [{"h": 0, "n": 1}]},
      "mark": {"type": "point", "opacity": 0},
      "encoding": {
        "x": {
          "field": "h",
          "type": "quantitative",
          "scale": {"domain": [0, 24], "nice": false, "zero": false},
          "axis": {
            "orient": "top",
            "values": [0, 2, 4, 6, 8, 10, 12, 14, 16, 18, 20, 22, 24],
            "tickSize": 17,
            "labels": false,
            "title": null
          }
        },
        "y": {
          "field": "n",
          "type": "quantitative",
          "scale": {"type": "log", "domain": [1, 2000000], "nice": false},
          "axis": {
            "orient": "right",
            "values": [1, 10, 100, 1000, 10000, 100000, 1000000],
            "tickSize": 18,
            "labels": false,
            "title": null
          }
        }
      }
    },
    {
      "data": {"values": [{"h": 0, "n": 1}]},
      "mark": {"type": "point", "opacity": 0},
      "encoding": {
        "x": {
          "field": "h",
          "type": "quantitative",
          "scale": {"domain": [0, 24], "nice": false, "zero": false},
          "axis": {
            "orient": "top",
            "values": [0.2,0.4,0.6,0.8,1,1.2,1.4,1.6,1.8,2.2,2.4,2.6,2.8,3,3.2,3.4,3.6,3.8,4.2,4.4,4.6,4.8,5,5.2,5.4,5.6,5.8,6.2,6.4,6.6,6.8,7,7.2,7.4,7.6,7.8,8.2,8.4,8.6,8.8,9,9.2,9.4,9.6,9.8,10.2,10.4,10.6,10.8,11,11.2,11.4,11.6,11.8,12.2,12.4,12.6,12.8,13,13.2,13.4,13.6,13.8,14.2,14.4,14.6,14.8,15,15.2,15.4,15.6,15.8,16.2,16.4,16.6,16.8,17,17.2,17.4,17.6,17.8,18.2,18.4,18.6,18.8,19,19.2,19.4,19.6,19.8,20.2,20.4,20.6,20.8,21,21.2,21.4,21.6,21.8,22.2,22.4,22.6,22.8,23,23.2,23.4,23.6,23.8],
            "tickSize": 9,
            "labels": false,
            "domain": false,
            "title": null
          }
        },
        "y": {
          "field": "n",
          "type": "quantitative",
          "scale": {"type": "log", "domain": [1, 2000000], "nice": false},
          "axis": {
            "orient": "right",
            "values": [2,3,4,5,6,7,8,9,20,30,40,50,60,70,80,90,200,300,400,500,600,700,800,900,2000,3000,4000,5000,6000,7000,8000,9000,20000,30000,40000,50000,60000,70000,80000,90000,200000,300000,400000,500000,600000,700000,800000,900000,2000000],
            "tickSize": 9,
            "labels": false,
            "domain": false,
            "title": null
          }
        }
      }
    }
  ]
}
